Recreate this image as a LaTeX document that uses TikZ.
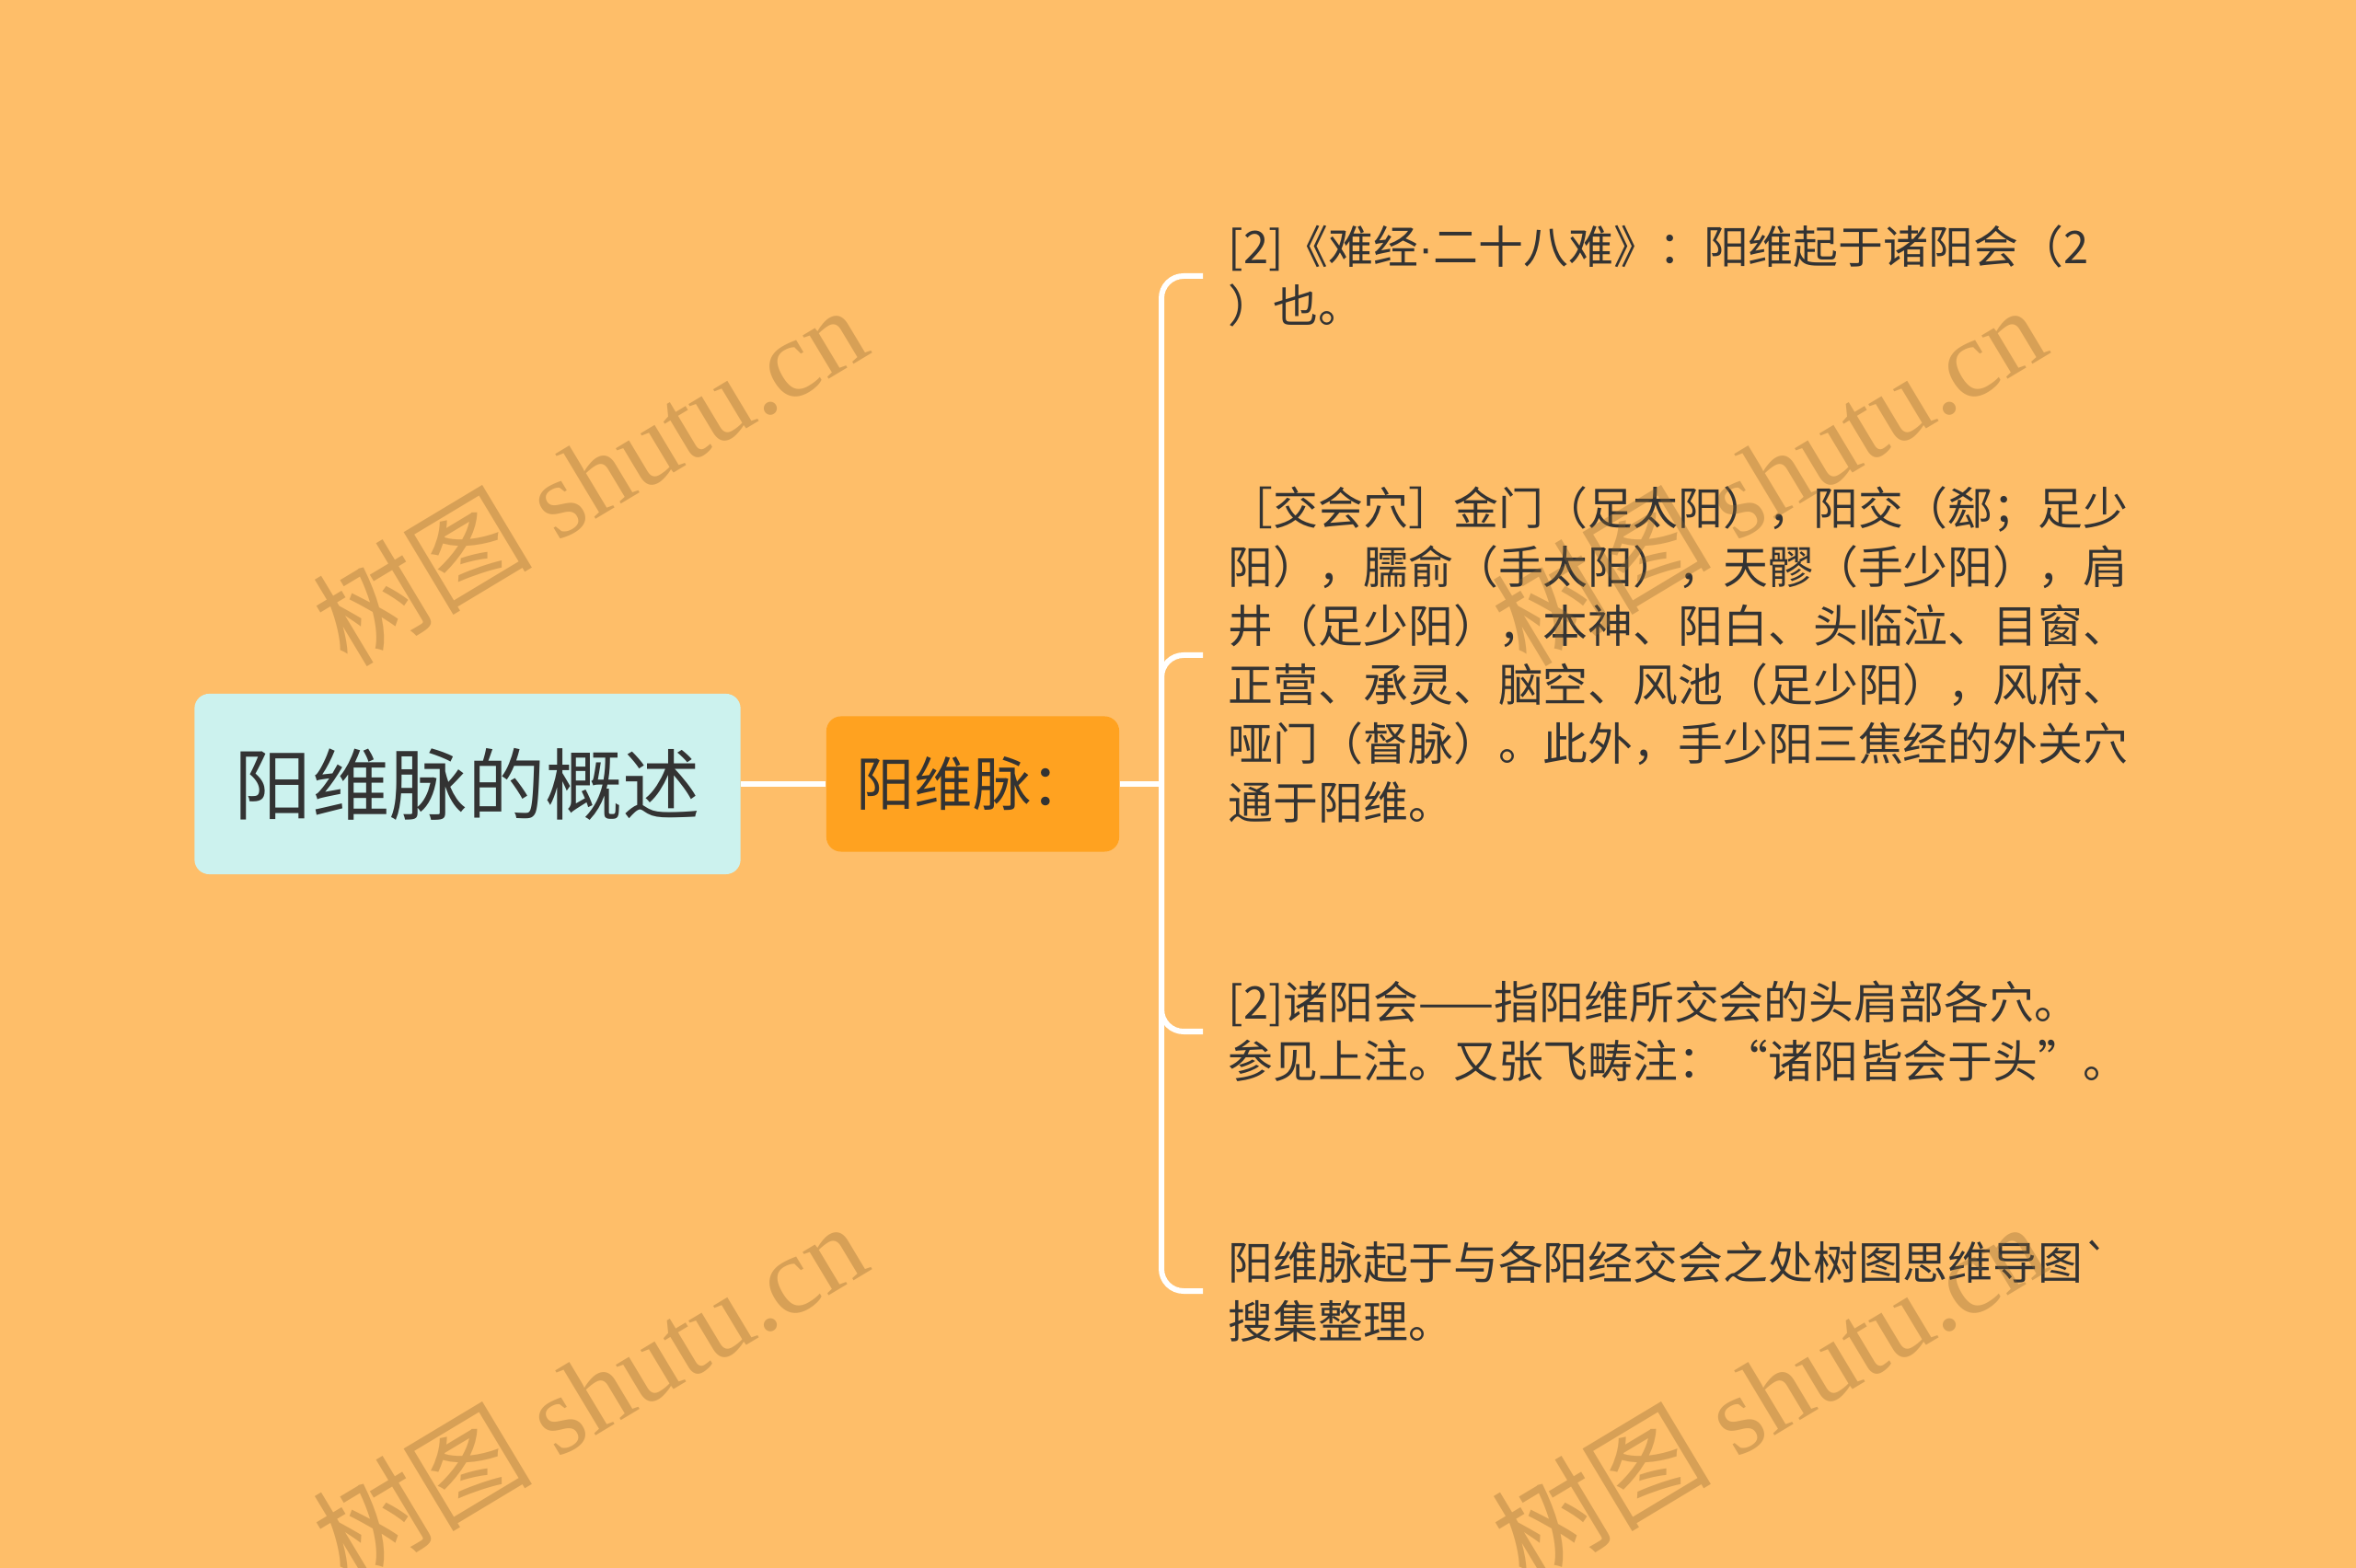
\documentclass[tikz,border=0pt]{standalone}
\usepackage{fontspec}
\newfontfamily\cjk{Noto Sans CJK SC}
\newfontfamily\latin{Liberation Sans}
\newfontfamily\wmserif{Liberation Serif}
\definecolor{bgcol}{HTML}{FEBE69}
\definecolor{rootcol}{HTML}{CCF2EE}
\definecolor{maincol}{HTML}{FFA220}
\definecolor{txtcol}{HTML}{333333}
\definecolor{wmcol}{HTML}{8A6430}
\tikzset{
	rootbox/.style={rectangle, rounded corners=0.16cm, fill=rootcol, text=txtcol,
		minimum width=5.93cm, minimum height=1.96cm, inner sep=0pt,
		font=\cjk\fontsize{24}{29}\selectfont},
	mainbox/.style={rectangle, rounded corners=0.16cm, fill=maincol, text=txtcol,
		minimum width=3.18cm, minimum height=1.47cm, inner sep=0pt,
		font=\cjk\fontsize{18}{22}\selectfont},
	leaf/.style={anchor=west, align=left, inner xsep=0.27cm, inner ysep=0pt, text=txtcol,
		font=\cjk\fontsize{13.9}{18.2}\selectfont},
	branch/.style={draw=white, line width=0.06cm, rounded corners=0.24cm},
	wmark/.style={rotate=31, text=wmcol, opacity=0.33, inner sep=0pt,
		font=\fontsize{34}{38}\selectfont}
}
\begin{document}
\begin{tikzpicture}[x=0.01cm, y=-0.01cm]
	\def\W{2560} \def\H{1704}
	\fill[bgcol] (0,0) rectangle (\W,\H);
	\useasboundingbox (0,0) rectangle (\W,\H);

	\node[rootbox] (root) at (508,852) {阳维脉的概述};
	\node[mainbox] (main) at (1057,852) {阳维脉：};
	\coordinate (jn) at (1262,852);

	\node[leaf] (leafa) at (1307,300) {[2]《难经{\latin ·}二十八难》：阳维起于诸阳会（2\\）也。};
	\node[leaf] (leafb) at (1307,712) {［交会穴］金门（足太阳），阳交（郄；足少\\
		阳），臑俞（手太阳），天髎（手少阳），肩\\
		井（足少阳），本神、阳白、头临泣、目窗、\\
		正营、承灵、脑空、风池（足少阳），风府、\\
		哑门（督脉）。此外，手少阳三焦经的外关穴\\
		通于阳维。};
	\node[leaf] (leafc) at (1307,1121) {[2]诸阳会——指阳维所交会的头肩部各穴。\\
		参见上注。又张飞畴注：“诸阳皆会于头”。};
	\node[leaf] (leafd) at (1307,1403) {阳维脉起于与各阳经交会之处树图思维导图\symbol{"60}\\
		搜集整理。};

	\draw[branch] (root.east) -- (main.west);
	\draw[branch] (main.east) -- (jn);
	\foreach \l in {leafa,leafb,leafc,leafd}
		\draw[branch] (jn) |- (\l.west);

	% watermark
	\foreach \x/\y [count=\i] in {640/516, 1921/516, 640/1512, 1921/1512}
		\node[wmark] (wm\i) at (\x,\y) {\cjk 树图 \wmserif shutu.cn};
\end{tikzpicture}
\end{document}
